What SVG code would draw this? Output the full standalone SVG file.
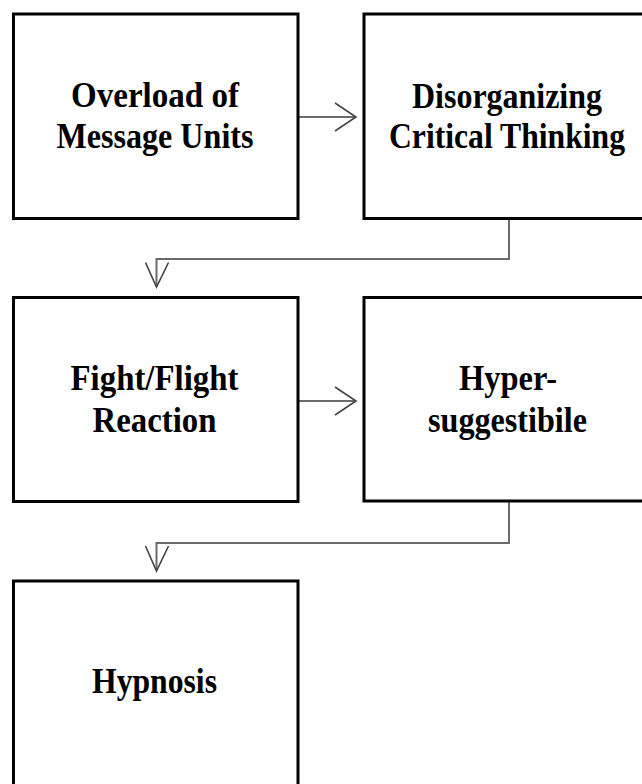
<svg xmlns="http://www.w3.org/2000/svg" width="642" height="784" viewBox="0 0 642 784">
<style>
.box{fill:#fff;stroke:#000;stroke-width:3}
.lbl{font-family:"Liberation Serif","Times New Roman",serif;font-weight:bold;font-size:36px;fill:#000;text-anchor:middle}
.con{fill:none;stroke:#6b6b6b;stroke-width:2}
.head{fill:none;stroke:#444;stroke-width:1.6}
</style>
<rect x="0" y="0" width="642" height="784" fill="#fff"/>
<g id="connectors">
  <path class="con" d="M298,117 H355"/>
  <path class="head" d="M335,103 L356,117 L335,131"/>
  <path class="con" d="M509,219 V259 H156.5 V286"/>
  <path class="head" d="M145.5,262.5 L156.5,287 L168.5,262.5"/>
  <path class="con" d="M298,401 H355"/>
  <path class="head" d="M335,387 L356,401 L335,415"/>
  <path class="con" d="M509,502 V543 H156.5 V570"/>
  <path class="head" d="M145.5,546 L156.5,571 L168.5,546"/>
</g>
<g id="n1">
  <rect class="box" x="13.5" y="14" width="284.5" height="204.5"/>
  <text class="lbl" x="155" y="107" textLength="168" lengthAdjust="spacingAndGlyphs">Overload of</text>
  <text class="lbl" x="155" y="148" textLength="197" lengthAdjust="spacingAndGlyphs">Message Units</text>
</g>
<g id="n2">
  <rect class="box" x="364" y="14" width="290" height="204.5"/>
  <text class="lbl" x="507" y="108" textLength="190" lengthAdjust="spacingAndGlyphs">Disorganizing</text>
  <text class="lbl" x="507" y="148" textLength="236" lengthAdjust="spacingAndGlyphs">Critical Thinking</text>
</g>
<g id="n3">
  <rect class="box" x="13.5" y="297.5" width="284.5" height="204"/>
  <text class="lbl" x="154.5" y="390" textLength="168" lengthAdjust="spacingAndGlyphs">Fight/Flight</text>
  <text class="lbl" x="154.5" y="431.5" textLength="124" lengthAdjust="spacingAndGlyphs">Reaction</text>
</g>
<g id="n4">
  <rect class="box" x="364" y="297.5" width="290" height="203.5"/>
  <text class="lbl" x="508" y="390" textLength="98" lengthAdjust="spacingAndGlyphs">Hyper-</text>
  <text class="lbl" x="507.5" y="431.5" textLength="159" lengthAdjust="spacingAndGlyphs">suggestibile</text>
</g>
<g id="n5">
  <rect class="box" x="13.5" y="581" width="284.5" height="220"/>
  <text class="lbl" x="154.5" y="693" textLength="125" lengthAdjust="spacingAndGlyphs">Hypnosis</text>
</g>
</svg>
